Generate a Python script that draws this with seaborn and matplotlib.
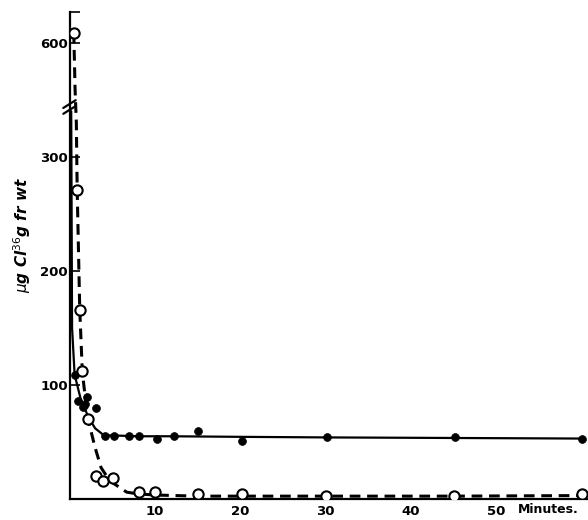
import numpy as np
import pandas as pd
import matplotlib
matplotlib.use("Agg")
import matplotlib.pyplot as plt
import seaborn as sns

# filled circles (solid curve)
filled_t = [0.6, 0.95, 1.6, 1.8, 2.1, 3.1, 4.15, 5.2, 7.0, 8.1, 10.2, 12.2, 15.1, 20.2, 30.2, 45.1, 60.0]
filled_v = [109, 86, 81, 83, 89, 80, 55.5, 55.5, 55.5, 55.5, 53, 55.5, 60, 51, 54, 54, 53]
solid_t = [0.2, 0.3, 0.6, 1.3, 2.2, 3.0, 4.0, 8, 12, 20, 30, 45, 60]
solid_v = [340, 150, 109, 88, 72, 62, 56, 55, 55, 54.5, 54, 53.5, 53]

# open circles (dashed curve)
open_t = [0.5, 0.9, 1.2, 1.5, 2.2, 3.1, 3.9, 5.1, 8.1, 10.0, 15.0, 20.2, 30.0, 45.0, 60.0]
open_v = [609, 271, 166, 112, 70, 20.5, 16, 18, 6.5, 5.7, 4, 4, 3, 3, 4]
dashed_t = [0.5, 0.65, 0.8, 0.9, 1.2, 1.5, 1.9, 2.3, 3.0, 3.7, 4.7, 6.7, 8, 10, 15, 20, 30, 45, 60]
dashed_v = [609, 560, 330, 271, 166, 112, 85, 66, 45, 27.5, 16, 6, 4.5, 3.5, 2.5, 2.5, 2.5, 2.5, 3]

ytick_vals = [100, 200, 300, 600]
xtick_vals = [10, 20, 30, 40, 50]

# broken y axis: 344..544 is cut out
LOW, HIGH = 344, 544


def fwd(v):
    v = np.asarray(v, dtype=float)
    return np.where(v <= LOW, v, np.where(v >= HIGH, v - (HIGH - LOW), LOW))


def inv(u):
    u = np.asarray(u, dtype=float)
    return np.where(u <= LOW, u, u + (HIGH - LOW))


sns.set_style("ticks")
plt.rcParams['font.family'] = ['Liberation Sans Narrow', 'DejaVu Sans']
plt.rcParams['text.color'] = 'black'
plt.rcParams['xtick.color'] = 'black'
plt.rcParams['ytick.color'] = 'black'
plt.rcParams['axes.edgecolor'] = 'black'

fig = plt.figure(figsize=(5.88, 5.20), dpi=100)
ax = fig.add_axes([69.5 / 588, 21 / 520, 1 - 69.5 / 588 - 0.002, 487 / 520])
ax.set_yscale('function', functions=(fwd, inv))

sns.lineplot(x=solid_t, y=solid_v, sort=False, color='black', lw=1.6, ax=ax)
sns.lineplot(x=dashed_t, y=dashed_v, sort=False, color='black', lw=2.2,
             ls=(0, (3.5, 2.2)), ax=ax)
sns.scatterplot(x=filled_t, y=filled_v, color='black', s=32, edgecolor='black',
                linewidth=0.5, zorder=4, ax=ax)
sns.scatterplot(x=open_t, y=open_v, color='white', s=55, edgecolor='black',
                linewidth=1.5, zorder=5, ax=ax)

ax.set_xlim(0, 60.6)
ax.set_ylim(0, 627)
ax.set_yticks(ytick_vals + [627])
ax.set_yticklabels([str(v) for v in ytick_vals] + [''])
ax.set_xticks(xtick_vals)
ax.set_xticklabels([str(v) for v in xtick_vals])
ax.tick_params(axis='y', direction='in', length=7, width=1.2, pad=1,
               labelsize=9.5)
ax.tick_params(axis='x', length=0, pad=4, labelsize=9.5)
for lab in ax.get_xticklabels() + ax.get_yticklabels():
    lab.set_fontweight('bold')
sns.despine(ax=ax)
ax.spines['left'].set_linewidth(1.6)
ax.spines['bottom'].set_linewidth(1.6)
ax.set_xlabel('')
ax.set_ylabel('')

# break marks on the y axis
yb = 1 - (107 - 12) / 487
for dy in (-0.006, 0.006):
    ax.plot([-0.012, 0.012], [yb + dy - 0.008, yb + dy + 0.008],
            transform=ax.transAxes, color='black', lw=1.6, clip_on=False)

ax.text(0.925, -0.008, 'Minutes.', transform=ax.transAxes, ha='center',
        va='top', fontsize=9, fontweight='bold')
fig.text(22 / 588, 1 - 235 / 520, r'$\mu$g Cl$^{36}$g fr wt', rotation=90,
         ha='center', va='center', fontsize=11, fontstyle='italic',
         fontweight='bold')

fig.savefig('out.png', dpi=100)
